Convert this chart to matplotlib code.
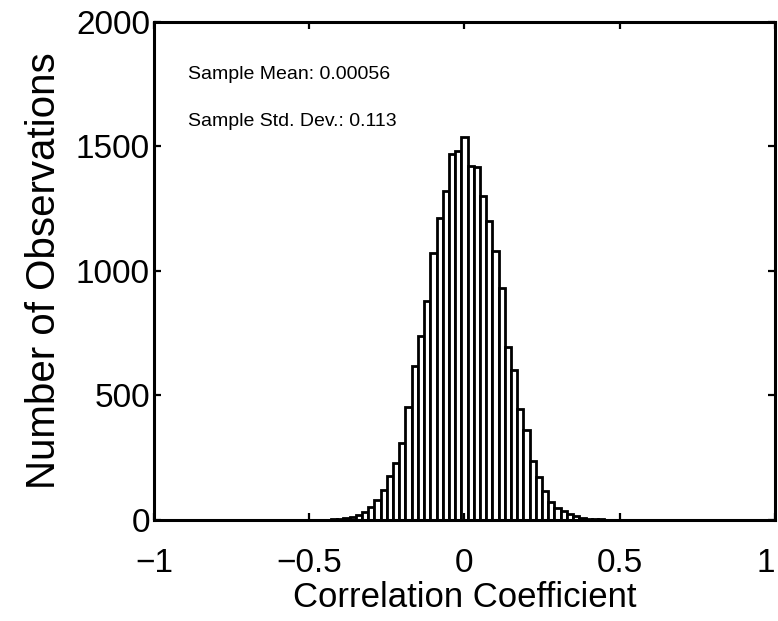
import numpy as np
import matplotlib
matplotlib.use("Agg")
import matplotlib.pyplot as plt

# Histogram data (bin centers and counts)
bin_width = 0.02
bin_index = list(range(-22, 24))
counts = [1, 2, 3, 6, 11, 20, 30, 52, 80, 118, 177, 228, 308, 452, 616, 736, 877, 1071,
          1210, 1322, 1470, 1479, 1539, 1421, 1416, 1300, 1199, 1078, 930, 694, 602, 445,
          359, 238, 170, 116, 70, 48, 35, 25, 15, 9, 5, 3, 2, 1]
bin_centers = [k * bin_width for k in bin_index]

x_ticks = [-1, -0.5, 0, 0.5, 1]
x_tick_labels = ["\u22121", "\u22120.5", "0", "0.5", "1"]
y_ticks = [0, 500, 1000, 1500, 2000]
annotations = ["Sample Mean: 0.00056", "Sample Std. Dev.: 0.113"]

plt.rcParams['font.family'] = ['Liberation Sans', 'DejaVu Sans']

fig = plt.figure(figsize=(7.78, 6.21), dpi=100)
ax = fig.add_axes([0.198, 0.163, 0.798, 0.802])

ax.bar(bin_centers, counts, width=bin_width, color='white', edgecolor='black',
       linewidth=2.0, align='center')

ax.set_xlim(-1, 1)
ax.set_ylim(0, 2000)
ax.set_xticks(x_ticks)
ax.set_xticklabels(x_tick_labels)
ax.set_yticks(y_ticks)

for s in ax.spines.values():
    s.set_linewidth(2.2)

ax.tick_params(axis='both', direction='in', length=5, width=1.6,
               top=True, right=True, labelsize=24)
ax.tick_params(axis='x', pad=20)
ax.tick_params(axis='y', pad=3)
ax.get_xticklabels()[-1].set_horizontalalignment('right')

ax.set_xlabel("Correlation Coefficient", fontsize=25, labelpad=2)
ax.set_ylabel("Number of Observations", fontsize=29, labelpad=9)

ax.text(-0.89, 1787, annotations[0], fontsize=14, va='center', ha='left')
ax.text(-0.89, 1598, annotations[1], fontsize=14, va='center', ha='left')

fig.savefig("out.png", dpi=100)
